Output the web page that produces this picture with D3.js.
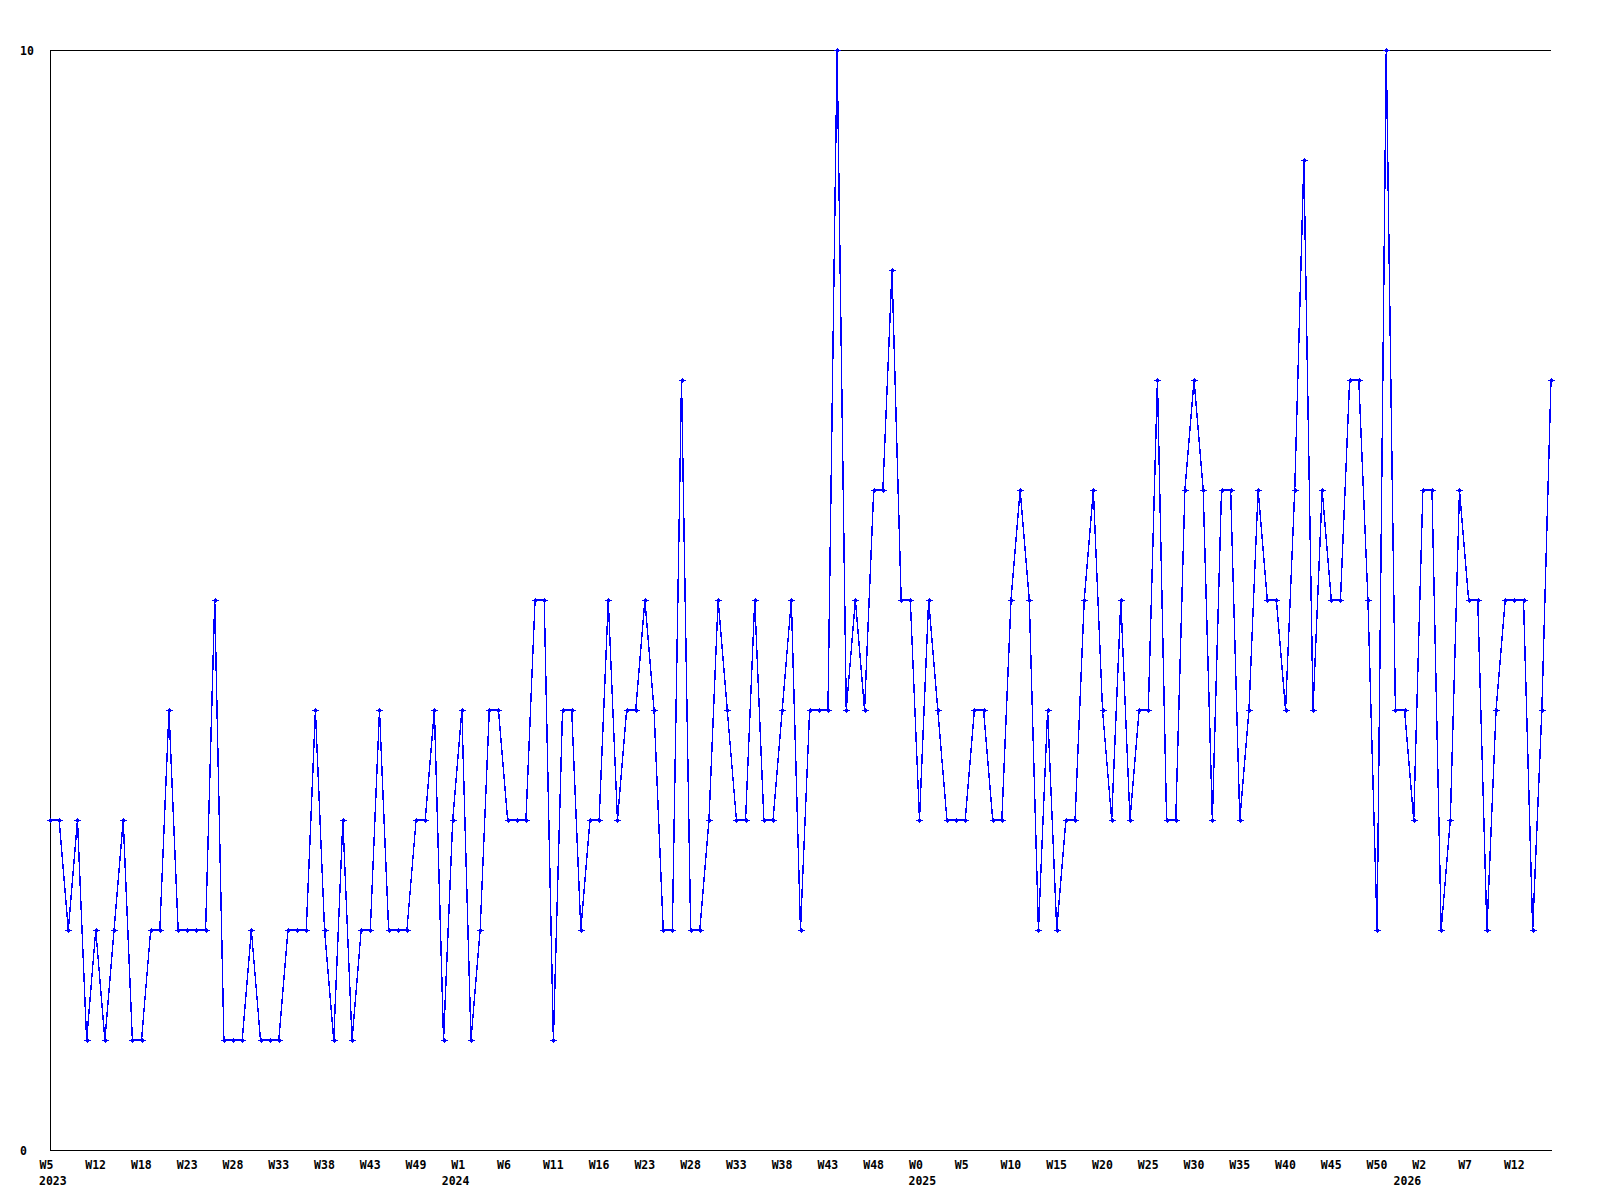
<!DOCTYPE html>
<html>
<head>
<meta charset="utf-8">
<script src="https://cdn.jsdelivr.net/npm/d3@7"></script>
<style>
    body { margin: 0; background: #fff; }
    svg { display: block; }
    .lbl { font-family: "DejaVu Sans Mono", monospace; font-weight: bold; font-size: 11.5px; fill: #000; }
</style>
</head>
<body>
<svg id="chart" width="1600" height="1200"></svg>
<script>
'use strict';

/* global d3 */

// one value per week, oldest first
var values = [
    3, 3, 2, 3, 1, 2, 1, 2, 3, 1, 1, 2, 2, 4, 2, 2, 2, 2, 5, 1, 1, 1, 2, 1, 1, 1, 2, 2,
    2, 4, 2, 1, 3, 1, 2, 2, 4, 2, 2, 2, 3, 3, 4, 1, 3, 4, 1, 2, 4, 4, 3, 3, 3, 5, 5,
    1, 4, 4, 2, 3, 3, 5, 3, 4, 4, 5, 4, 2, 2, 7, 2, 2, 3, 5, 4, 3, 3, 5, 3, 3, 4, 5,
    2, 4, 4, 4, 10, 4, 5, 4, 6, 6, 8, 5, 5, 3, 5, 4, 3, 3, 3, 4, 4, 3, 3, 5, 6, 5, 2, 4,
    2, 3, 3, 5, 6, 4, 3, 5, 3, 4, 4, 7, 3, 3, 6, 7, 6, 3, 6, 6, 3, 4, 6, 5, 5, 4, 6,
    9, 4, 6, 5, 5, 7, 7, 5, 2, 10, 4, 4, 3, 6, 6, 2, 3, 6, 5, 5, 2, 4, 5, 5, 5, 2, 4, 7
];

// a week label on every 5th point
var weekTicks = [
    "W5", "W12", "W18", "W23", "W28", "W33", "W38", "W43", "W49",
    "W1", "W6", "W11", "W16", "W23", "W28", "W33", "W38", "W43", "W48",
    "W0", "W5", "W10", "W15", "W20", "W25", "W30", "W35", "W40", "W45", "W50",
    "W2", "W7", "W12"
];
var tickStep = 5;

var years = ["2023", "2024", "2025", "2026"];
var yearStart = [0, 44, 95, 148];

var yTicks = [0, 10];

var svg = d3.select("#chart");

var plotLeft = 50, plotRight = 1551, plotTop = 50, plotBottom = 1150;

var x = d3.scaleLinear().domain([0, values.length - 1]).range([plotLeft, plotRight]);
var y = d3.scaleLinear().domain([0, 10]).range([plotBottom, plotTop]);

// top frame line
svg.append("line")
    .attr("x1", plotLeft).attr("x2", plotRight)
    .attr("y1", plotTop + 0.5).attr("y2", plotTop + 0.5)
    .attr("stroke", "#000")
    .attr("shape-rendering", "crispEdges");

var xAxis = d3.axisBottom(x)
    .tickValues(weekTicks.map(function (d, i) { return i * tickStep; }))
    .tickFormat(function (d) { return weekTicks[d / tickStep]; })
    .tickSizeInner(0)
    .tickSizeOuter(0);

var gx = svg.append("g")
    .attr("transform", "translate(0," + plotBottom + ")")
    .call(xAxis);
gx.attr("font-family", null).attr("font-size", null).attr("text-anchor", "start");
gx.select(".domain").attr("stroke", "#000").attr("shape-rendering", "crispEdges");
gx.selectAll(".tick text")
    .attr("class", "lbl")
    .attr("x", -11)
    .attr("y", 19)
    .attr("dy", null);

gx.selectAll("text.year")
    .data(years)
    .enter()
    .append("text")
    .attr("class", "lbl year")
    .attr("x", function (d, i) { return x(yearStart[i]) - 11; })
    .attr("y", 35)
    .text(function (d) { return d; });

var yAxis = d3.axisLeft(y)
    .tickValues(yTicks)
    .tickFormat(d3.format("d"))
    .tickSizeInner(0)
    .tickSizeOuter(0);

var gy = svg.append("g")
    .attr("transform", "translate(" + plotLeft + ",0)")
    .call(yAxis);
gy.attr("font-family", null).attr("font-size", null).attr("text-anchor", "start");
gy.select(".domain").attr("stroke", "#000").attr("shape-rendering", "crispEdges");
gy.selectAll(".tick text")
    .attr("class", "lbl")
    .attr("x", -30)
    .attr("dy", "4");

var line = d3.line()
    .x(function (d, i) { return x(i); })
    .y(function (d) { return y(d); });

svg.append("path")
    .datum(values)
    .attr("d", line)
    .attr("fill", "none")
    .attr("stroke", "#0000ff")
    .attr("stroke-width", 1.4)
    .attr("shape-rendering", "crispEdges");

// small plus-shaped markers
svg.selectAll("path.marker")
    .data(values)
    .enter()
    .append("path")
    .attr("class", "marker")
    .attr("transform", function (d, i) {
        return "translate(" + Math.round(x(i)) + "," + Math.round(y(d)) + ")";
    })
    .attr("d", "M-3,0H4V1H-3Z M-1,-1H2V2H-1Z M0,-2H1V3H0Z")
    .attr("fill", "#0000ff")
    .attr("shape-rendering", "crispEdges");
</script>
</body>
</html>
